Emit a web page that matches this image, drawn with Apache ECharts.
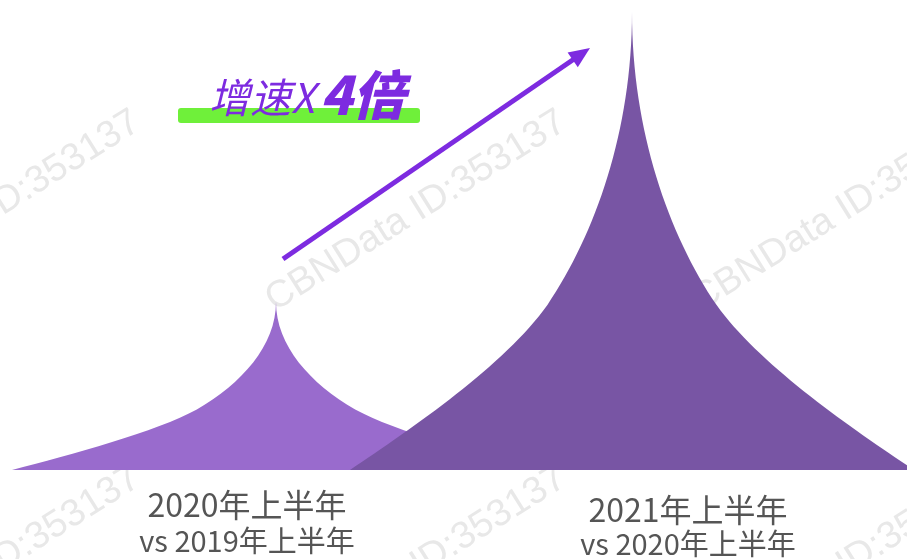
<!DOCTYPE html>
<html>
<head>
<meta charset="utf-8">
<style>html,body{margin:0;padding:0;background:#fff}#c{width:907px;height:559px}</style>
<script src="https://cdn.jsdelivr.net/npm/echarts@6/dist/echarts.min.js"></script>
</head>
<body>
<div id="c"></div>
<script>
// ---- data ----
const categories = ['2020年上半年', '2021年上半年'];
const subLabels = ['vs 2019年上半年', 'vs 2020年上半年'];
const values = [36.7, 100];
const headline = ['增速X', '4倍'];
const watermarkText = 'CBNData ID:353137';

// ---- styles ----
const barColors = ['#996bcd', '#7855a4'];
const barWidths = [528, 564];
const purple = '#7d2be0';
const spike = 'path://M0,100 L200,100 C178,91 145,77 130,64 C113,48.5 100,26 100,0 C100,26 87,48.5 70,64 C55,77 22,91 0,100 Z';

const chart = echarts.init(document.getElementById('c'));

// arrow geometry
const ax0 = 283, ay0 = 259, ax1 = 590, ay1 = 48;
const ang = Math.atan2(ay1 - ay0, ax1 - ax0);
const cs = Math.cos(ang), sn = Math.sin(ang);
const headLen = 21, headHalf = 9;
const bx = ax1 - headLen * cs, by = ay1 - headLen * sn;

const wmElems = [];
[211, 567].forEach(cy => {
  [-10, 416, 842].forEach(cx => {
    wmElems.push({
      type: 'text', x: cx, y: cy, rotation: 32 * Math.PI / 180, silent: true, z: 0,
      style: { text: watermarkText, fill: '#e8e8e8', font: '38px "Liberation Sans"', align: 'center', verticalAlign: 'middle' }
    });
  });
});

const option = {
  backgroundColor: '#fff',
  animation: false,
  grid: { left: 98, right: 97, top: 12, bottom: 89 },
  xAxis: {
    type: 'category',
    data: categories,
    axisLine: { show: false },
    axisTick: { show: false },
    axisLabel: {
      interval: 0,
      margin: 17,
      formatter: (v, i) => i === 0
        ? '{a1|' + v + '}\n{a2|' + subLabels[i] + '}'
        : '{b1|' + v + '}\n{b2|' + subLabels[i] + '}',
      rich: {
        a1: { fontSize: 32, color: '#555', fontFamily: 'Noto Sans CJK SC', lineHeight: 36, padding: [0, 58, 0, 0] },
        a2: { fontSize: 29, color: '#555', fontFamily: 'Noto Sans CJK SC', lineHeight: 36, padding: [0, 58, 0, 0] },
        b1: { fontSize: 32, color: '#555', fontFamily: 'Noto Sans CJK SC', lineHeight: 36, padding: [10, 0, 0, 112] },
        b2: { fontSize: 29, color: '#555', fontFamily: 'Noto Sans CJK SC', lineHeight: 36, padding: [6, 0, 0, 112] }
      }
    }
  },
  yAxis: { type: 'value', min: 0, max: 100, show: false },
  graphic: [
    ...wmElems,
    { type: 'rect', shape: { x: 178, y: 108, width: 242, height: 15, r: 3 }, style: { fill: '#6ff03a' }, z: 10 },
    { type: 'text', x: 209, y: 118, z: 11, style: { text: headline[0], font: 'italic 41px "Noto Sans CJK SC"', fill: purple, verticalAlign: 'bottom' } },
    { type: 'text', x: 320, y: 121, z: 11, style: { text: headline[1], font: 'italic 900 53px "Noto Sans CJK SC"', fill: purple, verticalAlign: 'bottom' } },
    { type: 'line', z: 11, shape: { x1: ax0, y1: ay0, x2: bx + 3 * cs, y2: by + 3 * sn }, style: { stroke: purple, lineWidth: 5 } },
    { type: 'polygon', z: 11, shape: { points: [[ax1, ay1], [bx - headHalf * sn, by + headHalf * cs], [bx + headHalf * sn, by - headHalf * cs]] }, style: { fill: purple } }
  ],
  series: [{
    type: 'pictorialBar',
    z: 5,
    symbol: spike,
    data: values.map((v, i) => ({
      value: v,
      symbolSize: [barWidths[i], '100%'],
      itemStyle: { color: barColors[i] }
    }))
  }]
};
chart.setOption(option);
</script>
</body>
</html>
